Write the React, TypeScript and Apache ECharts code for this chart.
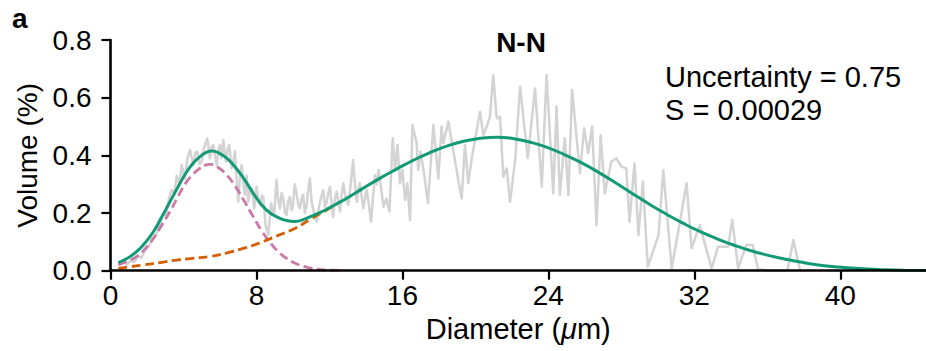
import React, { useEffect, useRef } from "react";
import * as echarts from "echarts";

const xTicks = [0, 8, 16, 24, 32, 40];
const yTicks = [0, 0.2, 0.4, 0.6, 0.8];

// measured volume distribution (gray)
const measured: [number, number][] = [
  [0.5,0.025],[0.7,0.03],[0.9,0.022],[1.1,0.035],[1.3,0.03],[1.5,0.05],[1.7,0.045],[1.9,0.07],[2.1,0.085],[2.3,0.11],
  [2.5,0.125],[2.7,0.16],[2.9,0.2],[3.05,0.19],[3.2,0.25],[3.35,0.28],[3.5,0.27],[3.63,0.33],[3.78,0.3],[3.9,0.367],
  [4.08,0.32],[4.22,0.39],[4.36,0.419],[4.54,0.367],[4.66,0.41],[4.76,0.413],[4.88,0.37],[5.0,0.378],[5.1,0.42],[5.18,0.436],
  [5.31,0.459],[5.45,0.39],[5.55,0.43],[5.64,0.436],[5.73,0.4],[5.82,0.367],[5.92,0.42],[6.0,0.436],[6.09,0.39],[6.18,0.453],
  [6.33,0.378],[6.42,0.42],[6.51,0.436],[6.64,0.355],[6.73,0.38],[6.82,0.413],[6.91,0.32],[7.0,0.239],[7.1,0.33],[7.19,0.367],
  [7.28,0.3],[7.37,0.263],[7.46,0.33],[7.55,0.239],[7.64,0.27],[7.74,0.286],[7.88,0.216],[8.0,0.291],[8.1,0.25],[8.2,0.228],
  [8.29,0.26],[8.38,0.257],[8.5,0.158],[8.65,0.124],[8.8,0.234],[8.97,0.193],[9.1,0.315],[9.2,0.24],[9.29,0.216],[9.38,0.27],
  [9.47,0.251],[9.56,0.2],[9.65,0.193],[9.74,0.24],[9.83,0.257],[9.92,0.21],[10.0,0.222],[10.1,0.3],[10.2,0.268],[10.29,0.23],
  [10.38,0.216],[10.47,0.25],[10.56,0.263],[10.65,0.2],[10.74,0.222],[10.84,0.28],[10.93,0.32],[11.02,0.24],[11.1,0.216],[11.2,0.19],
  [11.3,0.17],[11.4,0.21],[11.48,0.239],[11.57,0.26],[11.66,0.28],[11.76,0.22],[11.85,0.239],[11.94,0.27],[12.03,0.291],[12.12,0.23],
  [12.2,0.187],[12.3,0.25],[12.4,0.274],[12.5,0.23],[12.58,0.205],[12.67,0.26],[12.76,0.303],[12.9,0.25],[13.04,0.228],[13.17,0.3],
  [13.3,0.384],[13.4,0.3],[13.5,0.239],[13.58,0.28],[13.67,0.303],[13.76,0.26],[13.86,0.216],[13.95,0.25],[14.04,0.28],[14.16,0.23],
  [14.28,0.17],[14.4,0.26],[14.5,0.332],[14.6,0.3],[14.7,0.349],[14.85,0.28],[14.96,0.222],[15.12,0.25],[15.29,0.205],[15.47,0.459],
  [15.6,0.349],[15.73,0.436],[15.87,0.303],[16.0,0.349],[16.15,0.245],[16.27,0.303],[16.42,0.176],[16.55,0.505],[16.78,0.442],[16.87,0.349],
  [17.0,0.413],[17.2,0.33],[17.4,0.234],[17.55,0.37],[17.7,0.505],[17.97,0.32],[18.15,0.5],[18.24,0.442],[18.52,0.517],[18.75,0.43],
  [18.97,0.349],[19.1,0.3],[19.25,0.251],[19.43,0.436],[19.61,0.303],[19.8,0.39],[19.98,0.453],[20.25,0.551],[20.44,0.47],[20.62,0.5],
  [20.8,0.534],[20.98,0.679],[21.17,0.528],[21.35,0.534],[21.53,0.326],[21.72,0.355],[21.9,0.239],[22.18,0.384],[22.45,0.638],[22.87,0.39],
  [23.27,0.632],[23.64,0.291],[23.9,0.679],[24.27,0.268],[24.45,0.569],[24.63,0.263],[24.9,0.459],[25.1,0.263],[25.3,0.627],[25.73,0.338],
  [25.96,0.494],[26.18,0.407],[26.4,0.5],[26.64,0.158],[26.87,0.47],[27.09,0.268],[27.45,0.378],[27.72,0.39],[28.0,0.361],[28.27,0.355],
  [28.45,0.17],[28.72,0.372],[28.94,0.124],[29.18,0.309],[29.45,0.014],[29.58,0.037],[30.04,0.124],[30.3,0.349],[30.76,0.008],[31.58,0.303],
  [31.85,0.078],[32.3,0.158],[32.95,0.008],[33.3,0.083],[33.85,0.083],[34.08,0.176],[34.4,0.008],[34.85,0.089],[35.2,0.089],[35.5,0.005],
  [36.3,0],[37.1,0],[37.43,0.106],[37.8,0]
];

// total fit (green)
const totalFit: [number, number][] = [
  [0.43,0.028],[0.9,0.042],[1.43,0.066],[1.9,0.097],[2.35,0.135],[2.8,0.185],[3.26,0.239],[3.72,0.293],[4.18,0.343],[4.55,0.374],
  [4.9,0.395],[5.25,0.41],[5.55,0.415],[5.95,0.408],[6.37,0.39],[6.85,0.358],[7.3,0.32],[7.8,0.271],[8.29,0.228],[8.75,0.2],
  [9.2,0.184],[9.65,0.174],[10.12,0.171],[10.6,0.178],[11.03,0.189],[11.5,0.202],[11.94,0.216],[12.4,0.232],[12.86,0.248],[13.77,0.283],
  [14.78,0.321],[15.7,0.353],[16.6,0.383],[17.5,0.409],[18.43,0.432],[19.35,0.449],[20.26,0.459],[21.17,0.463],[22.18,0.457],[23.1,0.444],
  [24.0,0.426],[24.9,0.402],[25.83,0.374],[26.75,0.341],[27.66,0.306],[28.6,0.268],[29.58,0.229],[30.5,0.195],[31.4,0.164],[32.3,0.136],
  [33.23,0.111],[34.15,0.089],[35.06,0.07],[36.0,0.054],[37.0,0.04],[37.9,0.029],[38.8,0.02],[39.7,0.014],[40.6,0.009],[41.5,0.0055],
  [42.5,0.0032],[43.5,0.0018],[44.7,0.001]
];

// first component (pink dashed)
const compSmall: [number, number][] = [
  [0.43,0.02],[0.9,0.032],[1.43,0.049],[1.9,0.076],[2.35,0.112],[2.8,0.157],[3.26,0.205],[3.72,0.26],[4.18,0.309],[4.55,0.336],
  [4.9,0.355],[5.2,0.366],[5.45,0.369],[5.9,0.358],[6.37,0.332],[6.85,0.292],[7.3,0.245],[7.8,0.19],[8.29,0.138],[8.75,0.098],
  [9.2,0.066],[9.65,0.043],[10.12,0.026],[10.6,0.015],[11.03,0.008],[11.5,0.004],[11.94,0.002],[12.8,0.0005]
];

// second component (orange dashed)
const compLarge: [number, number][] = [
  [0.43,0.008],[1.0,0.013],[1.8,0.02],[2.7,0.028],[3.63,0.037],[4.5,0.043],[5.45,0.049],[6.4,0.062],[7.37,0.079],[8.0,0.092],
  [8.56,0.106],[9.3,0.125],[10.12,0.147],[11.0,0.18],[11.94,0.214],[12.4,0.231]
];

const FONT = "'Liberation Sans', Arial, Helvetica, sans-serif";
const FS = 28;
const FS_NOTE = 29;

export default function App() {
  const ref = useRef<HTMLDivElement>(null);
  useEffect(() => {
    if (!ref.current) return;
    const chart = echarts.init(ref.current, null, { renderer: "svg" });
    chart.setOption({
      animation: false,
      backgroundColor: "#ffffff",
      textStyle: { fontFamily: FONT },
      grid: { left: 110.5, right: 0, top: 40, bottom: 80.3, containLabel: false },
      xAxis: {
        type: "value",
        min: 0,
        max: 44.7,
        z: 5,
        name: "Diameter ({i|μ}m)",
        nameLocation: "middle",
        nameGap: 37,
        nameTextStyle: {
          fontSize: FS_NOTE,
          color: "#000",
          fontFamily: FONT,
          rich: { i: { fontStyle: "italic", fontSize: FS_NOTE, color: "#000", fontFamily: FONT } },
        },
        axisLine: { show: true, onZero: false, lineStyle: { color: "#000", width: 2.6 } },
        axisTick: { show: true, length: 9, lineStyle: { color: "#000", width: 2.2 }, customValues: xTicks },
        axisLabel: { fontSize: FS, color: "#000", margin: 11, customValues: xTicks, fontFamily: FONT },
        splitLine: { show: false },
      },
      yAxis: {
        type: "value",
        min: 0,
        max: 0.8,
        interval: 0.2,
        z: 5,
        name: "Volume (%)",
        nameLocation: "middle",
        nameGap: 68,
        nameTextStyle: { fontSize: FS, color: "#000", fontFamily: FONT },
        axisLine: { show: true, lineStyle: { color: "#000", width: 2.6 } },
        axisTick: { show: true, length: 9, lineStyle: { color: "#000", width: 2.2 } },
        axisLabel: {
          fontSize: FS,
          color: "#000",
          margin: 19,
          fontFamily: FONT,
          customValues: yTicks,
          formatter: (v: number) => v.toFixed(1),
        },
        splitLine: { show: false },
      },
      series: [
        {
          type: "line",
          data: measured,
          symbol: "none",
          lineStyle: { color: "#d3d3d3", width: 2.5, join: "round" },
          z: 1,
        },
        {
          type: "line",
          data: compSmall,
          symbol: "none",
          smooth: 0.5,
          lineStyle: { color: "#cc79a7", width: 2.8, type: [9, 4.5] },
          z: 2,
        },
        {
          type: "line",
          data: compLarge,
          symbol: "none",
          smooth: 0.5,
          lineStyle: { color: "#d55e00", width: 2.8, type: [9, 4.5] },
          z: 2,
        },
        {
          type: "line",
          data: totalFit,
          symbol: "none",
          smooth: 0.5,
          lineStyle: { color: "#129a76", width: 3 },
          z: 3,
        },
      ],
      graphic: [
        {
          type: "text",
          left: 12,
          top: 4,
          style: { text: "a", font: `bold ${FS}px ${FONT}`, fill: "#000" },
        },
        {
          type: "text",
          x: 521,
          y: 42,
          style: {
            text: "N-N",
            font: `bold ${FS}px ${FONT}`,
            fill: "#000",
            align: "center",
            verticalAlign: "middle",
          },
        },
        {
          type: "text",
          x: 665,
          y: 77,
          style: { text: "Uncertainty = 0.75", font: `${FS_NOTE}px ${FONT}`, fill: "#000", verticalAlign: "middle" },
        },
        {
          type: "text",
          x: 665,
          y: 110,
          style: { text: "S = 0.00029", font: `${FS_NOTE}px ${FONT}`, fill: "#000", verticalAlign: "middle" },
        },
      ],
    });
    return () => chart.dispose();
  }, []);
  return (
    <div
      ref={ref}
      style={{ position: "fixed", left: 0, top: 0, width: 926, height: 351, background: "#fff" }}
    />
  );
}
